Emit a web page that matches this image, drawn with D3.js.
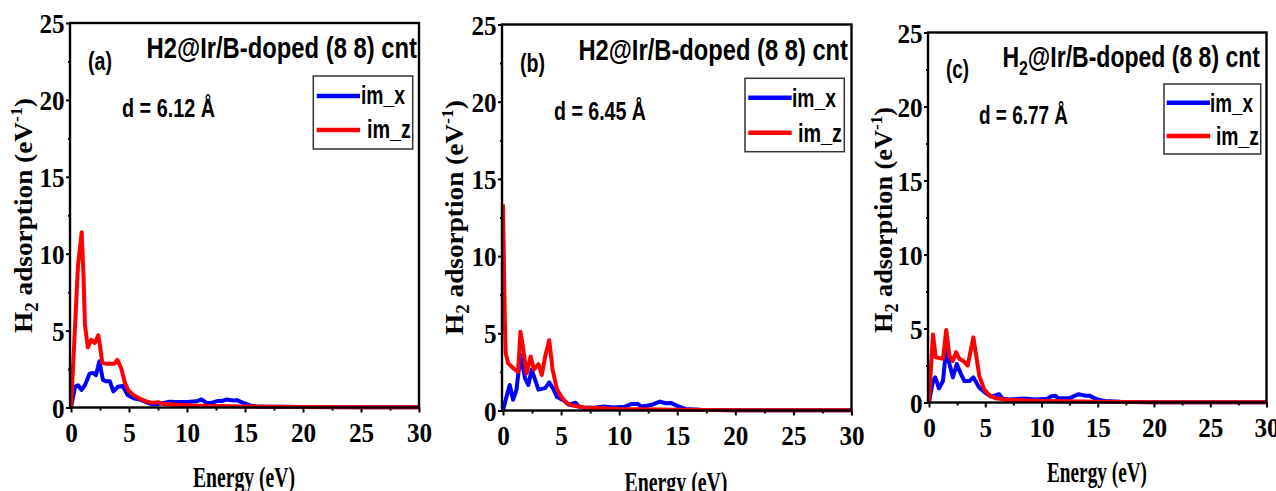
<!DOCTYPE html>
<html>
<head>
<meta charset="utf-8">
<script src="https://cdn.jsdelivr.net/npm/d3@7"></script>
<style>
  body { margin: 0; background: #fff; }
  svg { display: block; }
</style>
</head>
<body>
<div id="container"></div>
<script>
/* DATA */
const panelLetters = ["(a)", "(b)", "(c)"];
const distances = ["d = 6.12 Å", "d = 6.45 Å", "d = 6.77 Å"];
const seriesNames = ["im_x", "im_z"];
const xTicks = [0, 5, 10, 15, 20, 25, 30];
const yTicks = [0, 5, 10, 15, 20, 25];

// panel (a)
const aEnergyX = [0,0.35,0.6,0.9,1.2,1.6,1.9,2.15,2.45,2.75,3.05,3.35,3.65,4.05,4.45,4.9,5.4,6,6.5,7,7.5,8.5,9,10,10.8,11.25,11.7,12.1,12.6,13,13.4,14,14.3,14.85,15.5,16,18,20,25,30];
const aImX     = [0,1.35,1.45,1.15,1.45,2.2,2.25,2.1,3.0,1.8,1.7,1.7,1.05,1.35,1.4,0.8,0.6,0.5,0.35,0.2,0.22,0.37,0.35,0.35,0.4,0.52,0.3,0.3,0.42,0.42,0.52,0.45,0.48,0.3,0.12,0.07,0.05,0.03,0.02,0.01];
const aEnergyZ = [0,0.3,0.6,0.92,1.08,1.2,1.45,1.75,2.05,2.35,2.5,2.7,3,3.5,3.75,4,4.35,4.65,4.95,5.4,6,6.5,7,7.5,8,9,10,11,12,13,14,15,17,20,25,30];
const aImZ     = [0,4.5,9.2,11.4,8.5,5.4,3.9,4.4,4.2,4.7,4.0,2.9,2.85,2.85,2.85,3.1,2.5,1.6,1.1,0.8,0.55,0.4,0.3,0.35,0.22,0.18,0.15,0.12,0.1,0.09,0.08,0.07,0.05,0.03,0.02,0.02];

// panel (b)
const bEnergyX = [0,0.3,0.58,0.87,1.16,1.5,1.89,2.18,2.47,2.76,3.05,3.35,3.63,3.98,4.36,4.65,5.23,5.67,6.25,6.54,7,8,8.7,9.5,10.5,11.05,11.6,11.9,12.5,12.8,13.5,14,14.5,15.1,15.7,17,20,25,30];
const bImX     = [0,0.9,1.65,0.7,1.35,3.6,2.1,1.65,2.65,2.0,1.35,1.4,1.45,1.82,1.35,0.87,0.65,0.37,0.5,0.26,0.18,0.2,0.26,0.2,0.25,0.42,0.43,0.26,0.33,0.37,0.58,0.47,0.48,0.26,0.1,0.05,0.02,0.01,0.01];
const bEnergyZ = [0,0.15,0.23,0.45,0.87,1.3,1.5,1.74,2.03,2.38,2.67,3.05,3.34,3.63,3.98,4.27,4.65,5.1,5.5,6,7,8,9,10,12,15,20,25,30];
const bImZ     = [13.35,6.1,3.7,3.05,2.75,2.5,5.1,4.0,2.4,3.5,2.65,3.0,2.3,3.5,4.55,2.65,1.35,0.8,0.48,0.32,0.2,0.17,0.13,0.1,0.08,0.05,0.02,0.01,0.01];

// panel (c)
const cEnergyX = [0,0.35,0.56,0.88,1.24,1.53,1.82,2.12,2.47,2.85,3.15,3.6,3.94,4.47,4.9,5.5,6.24,6.53,7,8.44,9.5,10.5,10.8,11.24,11.5,12.5,13.3,14,14.3,14.9,15.6,17,20,25,30];
const cImX     = [0,1.45,1.7,0.95,1.45,3.6,2.6,1.7,2.6,1.9,1.45,1.45,1.7,1.0,0.72,0.4,0.56,0.27,0.2,0.27,0.2,0.25,0.4,0.45,0.27,0.3,0.56,0.45,0.45,0.22,0.1,0.05,0.02,0.01,0.01];
const cEnergyZ = [0,0.35,0.6,0.95,1.25,1.53,1.82,2.12,2.41,2.7,3.06,3.44,3.94,4.18,4.47,4.9,5.35,5.95,7,8,10,12,15,20,25,30];
const cImZ     = [0,4.6,3.05,3.0,2.95,4.9,3.15,2.8,3.4,2.95,2.8,2.5,4.4,3.25,1.8,0.9,0.5,0.28,0.18,0.15,0.1,0.08,0.05,0.02,0.01,0.01];

const energies = [[aEnergyX, aEnergyZ], [bEnergyX, bEnergyZ], [cEnergyX, cEnergyZ]];
const values = [[aImX, aImZ], [bImX, bImZ], [cImX, cImZ]];
const colors = ["#0000ff", "#ff0000"];

/* LAYOUT (pixel positions measured on the reference) */
const layout = [
  { x0: 71, x1: 419, yb: 407.5, yt: 23,
    title: [417, 58, 271], letter: [88, 70, 24], dtext: [122, 117, 93],
    legend: [313.3, 76, 99.4, 73], lineX: [316.7, 360], lineY: [96, 130],
    legText: [[361, 104, 44], [367, 138, 44]],
    ylab: [32, 215.5, 235], xlab: [244, 487, 102] },
  { x0: 503, x1: 851.5, yb: 410.5, yt: 24.5,
    title: [848, 60, 270], letter: [520, 72, 25], dtext: [554, 120, 92],
    legend: [745, 78.3, 99.3, 73.4], lineX: [748.3, 791.7], lineY: [97.7, 132.7],
    legText: [[792, 106.7, 44], [798, 141.7, 44]],
    ylab: [463, 217.5, 235], xlab: [676, 492, 103] },
  { x0: 929, x1: 1266.5, yb: 402.5, yt: 32.5,
    title: [1260, 66.7, 258], letter: [946, 78, 23], dtext: [979, 124, 89],
    legend: [1164, 84, 96.7, 70], lineX: [1166.7, 1210], lineY: [102.7, 136],
    legText: [[1210, 111.7, 43], [1216, 145, 43]],
    ylab: [892, 220, 226], xlab: [1097, 482, 100] }
];

const width = 1276, height = 491;
const sansNarrow = "'Liberation Sans Narrow', 'Arial Narrow', 'Liberation Sans', Arial, sans-serif";
const serif = "'Liberation Serif', 'Times New Roman', serif";

const svg = d3.select("#container")
  .append("svg")
  .attr("width", width)
  .attr("height", height);

// squeeze/stretch a text element to a measured width
function fitText(sel, w) {
  const bw = sel.node().getBBox().width;
  if (bw > 0) sel.attr("transform", `scale(${w / bw},1)`);
}

function addText(x, y, str, w, opts) {
  const g = svg.append("g").attr("transform", `translate(${x},${y})` + (opts.rotate ? " rotate(-90)" : ""));
  const t = g.append("text")
    .attr("font-family", opts.font)
    .attr("font-weight", "bold")
    .attr("font-size", opts.size)
    .attr("text-anchor", opts.anchor || "start")
    .attr("fill", "#000");
  if (opts.build) opts.build(t); else t.text(str);
  fitText(t, w);
  return t;
}

layout.forEach((L, i) => {
  const x = d3.scaleLinear().domain([0, 30]).range([L.x0, L.x1]);
  const y = d3.scaleLinear().domain([0, 25]).range([L.yb, L.yt]);

  // lines
  const line = d3.line().x(d => x(d[0])).y(d => y(d[1]));
  [0, 1].forEach(s => {
    const pts = energies[i][s].map((e, k) => [e, values[i][s][k]]);
    svg.append("path")
      .datum(pts)
      .attr("fill", "none")
      .attr("stroke", colors[s])
      .attr("stroke-width", 4)
      .attr("stroke-linejoin", "round")
      .attr("d", line);
  });

  // axes: major + minor ticks, outward
  const xAxis = svg.append("g")
    .attr("transform", `translate(0,${L.yb})`)
    .call(d3.axisBottom(x).tickValues(xTicks).tickSize(5).tickFormat(d3.format("d")));
  xAxis.append("g").call(d3.axisBottom(x).tickValues(d3.range(2.5, 30, 5)).tickSize(3).tickFormat(""));
  xAxis.selectAll("text")
    .attr("y", 35).attr("dy", 0)
    .attr("transform", "scale(0.9,1)")
    .attr("font-family", serif).attr("font-weight", "bold").attr("font-size", 28).attr("fill", "#000");

  const yAxis = svg.append("g")
    .attr("transform", `translate(${L.x0},0)`)
    .call(d3.axisLeft(y).tickValues(yTicks).tickSize(5).tickPadding(2).tickFormat(d3.format("d")));
  yAxis.append("g").call(d3.axisLeft(y).tickValues(d3.range(2.5, 25, 5)).tickSize(3).tickFormat(""));
  yAxis.selectAll("text")
    .attr("dy", "0.34em")
    .attr("transform", "scale(0.9,1)")
    .attr("font-family", serif).attr("font-weight", "bold").attr("font-size", 28).attr("fill", "#000");

  svg.selectAll(".domain").remove();
  svg.selectAll(".tick line").attr("stroke", "#000").attr("stroke-width", 2);

  // frame
  svg.append("rect")
    .attr("x", L.x0 - 1).attr("y", L.yt)
    .attr("width", L.x1 - L.x0 + 1).attr("height", L.yb - L.yt)
    .attr("fill", "none").attr("stroke", "#000").attr("stroke-width", 2.4);

  // title
  addText(L.title[0], L.title[1], "", L.title[2], {
    font: sansNarrow, size: 29, anchor: "end",
    build: t => {
      t.append("tspan").text("H");
      if (i === 2) {
        t.append("tspan").attr("font-size", 20).attr("dy", 8).text("2");
        t.append("tspan").attr("dy", -8).text("@Ir/B-doped (8 8) cnt");
      } else {
        t.append("tspan").text("2@Ir/B-doped (8 8) cnt");
      }
    }
  });

  addText(L.letter[0], L.letter[1], panelLetters[i], L.letter[2], { font: sansNarrow, size: 25 });
  addText(L.dtext[0], L.dtext[1], distances[i], L.dtext[2], { font: sansNarrow, size: 25 });

  // legend
  const [lx, ly, lw, lh] = L.legend;
  svg.append("rect")
    .attr("x", lx).attr("y", ly).attr("width", lw).attr("height", lh)
    .attr("fill", "#fff").attr("stroke", "#333").attr("stroke-width", 1.5);
  seriesNames.forEach((name, s) => {
    svg.append("line")
      .attr("x1", L.lineX[0]).attr("x2", L.lineX[1])
      .attr("y1", L.lineY[s]).attr("y2", L.lineY[s])
      .attr("stroke", colors[s]).attr("stroke-width", 4.5);
    addText(L.legText[s][0], L.legText[s][1], name, L.legText[s][2], { font: sansNarrow, size: 25 });
  });

  // axis titles
  addText(L.ylab[0], L.ylab[1], "", L.ylab[2], {
    font: serif, size: 26, anchor: "middle", rotate: true,
    build: t => {
      t.append("tspan").text("H");
      t.append("tspan").attr("font-size", 18).attr("dy", 6).text("2");
      t.append("tspan").attr("dy", -6).text(" adsorption (eV");
      t.append("tspan").attr("font-size", 17).attr("dy", -10).text("-1");
      t.append("tspan").attr("dy", 10).text(")");
    }
  });
  addText(L.xlab[0], L.xlab[1], "Energy (eV)", L.xlab[2], { font: serif, size: 29, anchor: "middle" });
});
</script>
</body>
</html>
